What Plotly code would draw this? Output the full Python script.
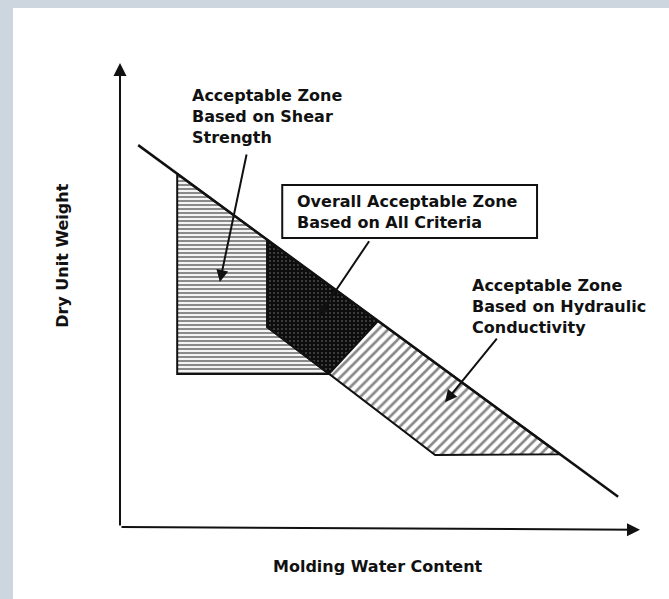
import plotly.graph_objects as go

# Conceptual compaction diagram: molding water content vs dry unit weight,
# both on an arbitrary 0-100 scale.
line_w = [3.5, 95.8]          # upper bounding line (water content)
line_g = [82.3, 6.5]          # upper bounding line (dry unit weight)

shear_w = [11.0, 28.3, 28.3, 40.2, 11.0]
shear_g = [76.1, 61.9, 43.1, 33.0, 33.0]

overall_w = [28.3, 49.6, 40.2, 28.3]
overall_g = [61.9, 44.4, 33.0, 43.1]

hydraulic_w = [49.6, 84.6, 60.6, 40.2]
hydraulic_g = [44.4, 15.7, 15.5, 33.0]

shear_text = ["Acceptable Zone", "Based on Shear", "Strength"]
overall_text = ["Overall Acceptable Zone", "Based on All Criteria"]
hydraulic_text = ["Acceptable Zone", "Based on Hydraulic", "Conductivity"]

# pointer arrows: (tail w, tail g, head w, head g)
pointers = [
    (24.4, 80.6, 19.2, 52.8),
    (48.1, 61.9, 38.1, 45.3),
    (72.7, 40.9, 62.5, 26.9),
]

FONT = dict(family="DejaVu Sans", size=16, color="#111111", weight="bold")

fig = go.Figure()

def closed(a):
    return list(a) + [a[0]]

fig.add_trace(go.Scatter(
    x=closed(shear_w), y=closed(shear_g), mode="lines", fill="toself",
    fillcolor="white",
    fillpattern=dict(shape="-", size=4, solidity=0.55, fgcolor="#151515", bgcolor="white"),
    line=dict(color="#111111", width=2), hoverinfo="skip"))

fig.add_trace(go.Scatter(
    x=closed(overall_w), y=closed(overall_g), mode="lines", fill="toself",
    fillcolor="#111111",
    fillpattern=dict(shape=".", size=4, solidity=0.2, fgcolor="#8a8a8a", bgcolor="#0d0d0d"),
    line=dict(color="#111111", width=2), hoverinfo="skip"))

fig.add_trace(go.Scatter(
    x=closed(hydraulic_w), y=closed(hydraulic_g), mode="lines", fill="toself",
    fillcolor="white",
    fillpattern=dict(shape="/", size=7, solidity=0.38, fgcolor="#111111", bgcolor="white"),
    line=dict(color="#111111", width=2), hoverinfo="skip"))

fig.add_trace(go.Scatter(
    x=line_w, y=line_g, mode="lines",
    line=dict(color="#111111", width=2.5), hoverinfo="skip"))

annotations = []

# axes drawn as arrows
annotations.append(dict(x=0, y=100, ax=0, ay=0, xref="x", yref="y", axref="x", ayref="y",
                        text="", showarrow=True, arrowhead=2, arrowsize=1.3,
                        arrowwidth=2, arrowcolor="#111111"))
annotations.append(dict(x=100, y=-0.6, ax=0, ay=0, xref="x", yref="y", axref="x", ayref="y",
                        text="", showarrow=True, arrowhead=2, arrowsize=1.3,
                        arrowwidth=2, arrowcolor="#111111"))

for tw, tg, hw, hg in pointers:
    annotations.append(dict(x=hw, y=hg, ax=tw, ay=tg, xref="x", yref="y", axref="x", ayref="y",
                            text="", showarrow=True, arrowhead=2, arrowsize=1.2,
                            arrowwidth=2, arrowcolor="#111111"))

def text_block(lines, w, g_mid):
    annotations.append(dict(x=w, y=g_mid, xref="x", yref="y", text="<br>".join(lines),
                            showarrow=False, xanchor="left", yanchor="middle",
                            align="left", font=FONT))

text_block(shear_text, 13.5, 88.4)
text_block(overall_text, 33.6, 67.9)
text_block(hydraulic_text, 67.3, 47.6)

annotations.append(dict(x=0.075, y=0.574, xref="paper", yref="paper", text="Dry Unit Weight",
                        textangle=-90, showarrow=False, font=FONT))
annotations.append(dict(x=0.565, y=0.035, xref="paper", yref="paper", text="Molding Water Content",
                        showarrow=False, font=FONT))

shapes = [
    # frame bands
    dict(type="rect", xref="paper", yref="paper", x0=0, x1=13 / 669, y0=0, y1=1,
         fillcolor="#cdd6df", line=dict(width=0), layer="below"),
    dict(type="rect", xref="paper", yref="paper", x0=0, x1=1, y0=1 - 8 / 599, y1=1,
         fillcolor="#cdd6df", line=dict(width=0), layer="below"),
    # box around the overall zone label
    dict(type="rect", xref="x", yref="y", x0=31.2, x1=80.2, y0=62.3, y1=73.7,
         fillcolor="white", line=dict(color="#111111", width=2), layer="below"),
]

fig.update_layout(
    width=669, height=599,
    margin=dict(l=0, r=0, t=0, b=0),
    paper_bgcolor="white", plot_bgcolor="rgba(0,0,0,0)",
    showlegend=False,
    xaxis=dict(range=[0, 100], domain=[120 / 669, 640 / 669], visible=False, fixedrange=True),
    yaxis=dict(range=[0, 100], domain=[72 / 599, 536 / 599], visible=False, fixedrange=True),
    annotations=annotations,
    shapes=shapes,
)

fig.write_html("out.html")
